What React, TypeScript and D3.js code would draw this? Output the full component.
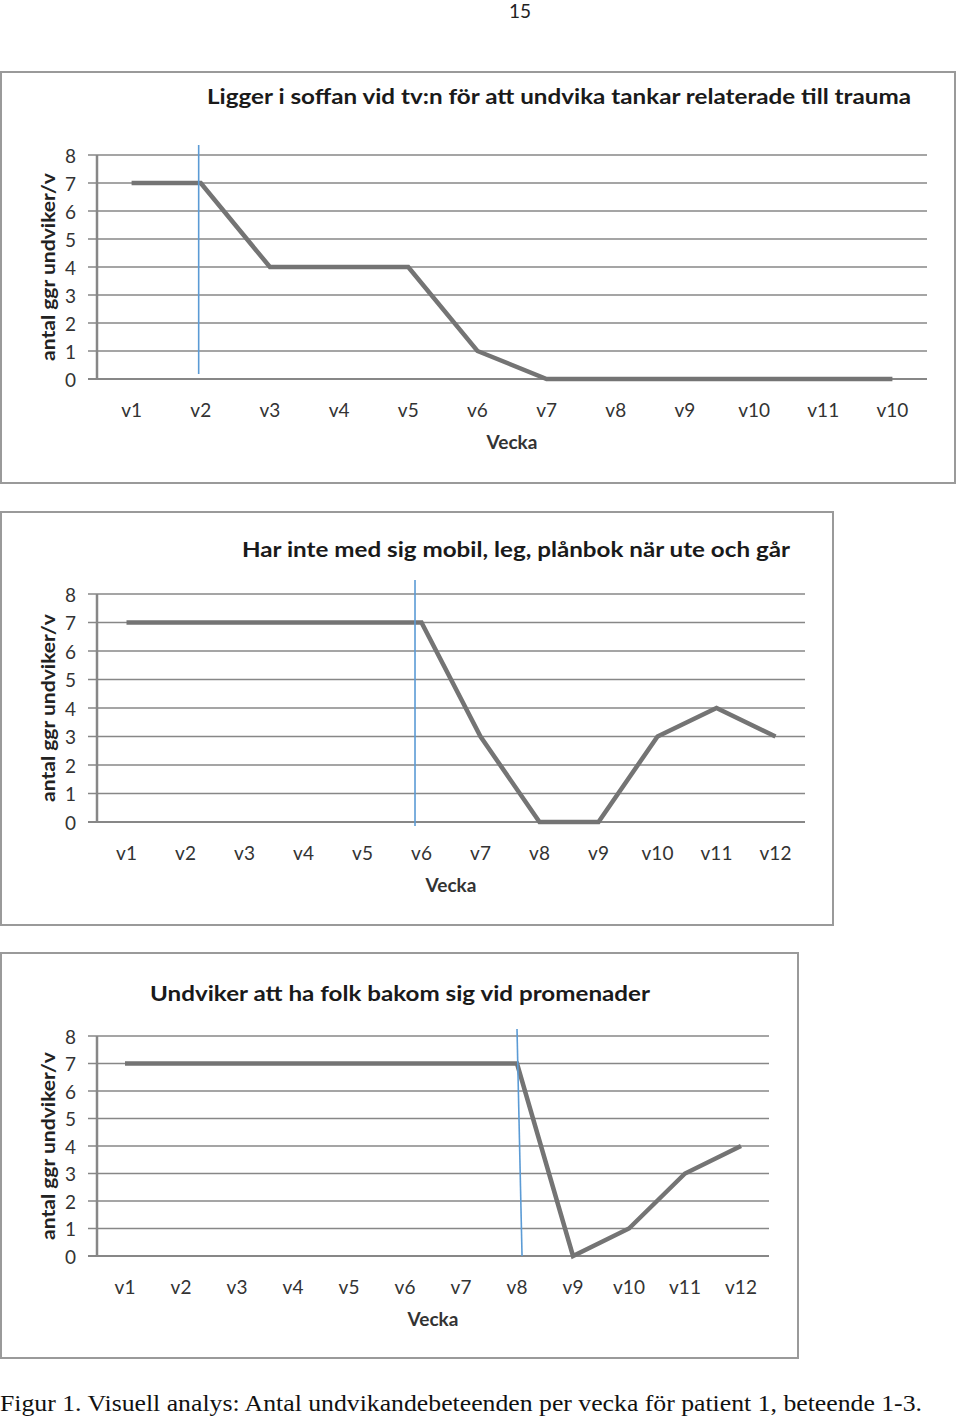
import React from "react";
import * as d3 from "d3";

// ---- data ----
const weeks1 = ["v1","v2","v3","v4","v5","v6","v7","v8","v9","v10","v11","v10"];
const values1 = [7,7,4,4,4,1,0,0,0,0,0,0];
const weeks2 = ["v1","v2","v3","v4","v5","v6","v7","v8","v9","v10","v11","v12"];
const values2 = [7,7,7,7,7,7,3,0,0,3,4,3];
const weeks3 = ["v1","v2","v3","v4","v5","v6","v7","v8","v9","v10","v11","v12"];
const values3 = [7,7,7,7,7,7,7,7,0,1,3,4];
// phase-change line position (in week-index units), top and bottom
const phase1 = [0.97, 0.97];
const phase2 = [4.89, 4.89];
const phase3 = [7.0, 7.09];
const yTicks = [0,1,2,3,4,5,6,7,8];
const titles = [
  "Ligger i soffan vid tv:n för att undvika tankar relaterade till trauma",
  "Har inte med sig mobil, leg, plånbok när ute och går",
  "Undviker att ha folk bakom sig vid promenader",
];
const yLabel = "antal  ggr undviker/v";
const xLabel = "Vecka";
const caption = "Figur 1. Visuell analys: Antal undvikandebeteenden per vecka för patient 1, beteende 1-3.";

const FONT = "Lato, 'Open Sans', sans-serif";

type Cfg = {
  box: [number, number, number, number];
  plot: { x0: number; x1: number; y0: number; y8: number };
  title: string; titleX: number; titleY: number; titleW: number;
  weeks: string[]; values: number[]; phase: number[];
  phaseTop: number; phaseBottom: number;
};

const configs: Cfg[] = [
  { box: [1, 72, 955, 483], plot: { x0: 97, x1: 927, y0: 379, y8: 155 },
    title: titles[0], titleX: 559, titleY: 95, titleW: 704,
    weeks: weeks1, values: values1, phase: phase1, phaseTop: 145, phaseBottom: 374 },
  { box: [1, 512, 833, 925], plot: { x0: 97, x1: 805, y0: 822, y8: 594 },
    title: titles[1], titleX: 516, titleY: 548, titleW: 548,
    weeks: weeks2, values: values2, phase: phase2, phaseTop: 580, phaseBottom: 826 },
  { box: [1, 953, 798, 1358], plot: { x0: 97, x1: 769, y0: 1256, y8: 1036 },
    title: titles[2], titleX: 400, titleY: 992, titleW: 500,
    weeks: weeks3, values: values3, phase: phase3, phaseTop: 1029, phaseBottom: 1256 },
];

function Chart({ c }: { c: Cfg }) {
  const n = c.weeks.length;
  const x = d3.scaleLinear().domain([-0.5, n - 0.5]).range([c.plot.x0, c.plot.x1]);
  const y = d3.scaleLinear().domain([0, 8]).range([c.plot.y0, c.plot.y8]);
  const line = d3.line<number>().x((_, i) => x(i)).y((d) => y(d));
  const [bx0, by0, bx1, by1] = c.box;
  const gridColor = "#878787";
  const midY = (c.plot.y0 + c.plot.y8) / 2;
  const midX = (c.plot.x0 + c.plot.x1) / 2;
  return (
    <g>
      <rect x={bx0} y={by0} width={bx1 - bx0} height={by1 - by0} fill="#fff" stroke="#9a9a9a" strokeWidth={2} />
      <text x={c.titleX} y={c.titleY} textAnchor="middle" dominantBaseline="central"
        fontFamily={FONT} fontWeight="bold" fontSize={21} fill="#1a1a1a"
        textLength={c.titleW} lengthAdjust="spacingAndGlyphs">{c.title}</text>
      {yTicks.map((t) => (
        <g key={t}>
          <line x1={c.plot.x0 - 9} x2={c.plot.x1} y1={y(t)} y2={y(t)} stroke={gridColor} strokeWidth={t === 0 ? 2 : 1.7} />
          <text x={76} y={y(t)} textAnchor="end" dominantBaseline="central" fontFamily={FONT} fontSize={19} fill="#333">{t}</text>
        </g>
      ))}
      <line x1={c.plot.x0} x2={c.plot.x0} y1={y(8)} y2={y(0)} stroke={gridColor} strokeWidth={2.5} />
      {c.weeks.map((w, i) => (
        <text key={i} x={x(i)} y={c.plot.y0 + 30} textAnchor="middle" dominantBaseline="central" fontFamily={FONT} fontSize={19} fill="#333">{w}</text>
      ))}
      <text x={midX} y={c.plot.y0 + 62} textAnchor="middle" dominantBaseline="central" fontFamily={FONT} fontWeight="bold" fontSize={19} fill="#333">{xLabel}</text>
      <text transform={`translate(47,${midY}) rotate(-90)`} textAnchor="middle" dominantBaseline="central"
        fontFamily={FONT} fontWeight="bold" fontSize={19} fill="#222"
        textLength={188} lengthAdjust="spacingAndGlyphs">{yLabel}</text>
      <path d={line(c.values) || ""} fill="none" stroke="#747474" strokeWidth={4.5} strokeLinejoin="miter" />
      <line x1={x(c.phase[0])} x2={x(c.phase[1])} y1={c.phaseTop} y2={c.phaseBottom} stroke="#5b9bd5" strokeWidth={1.6} />
    </g>
  );
}

export default function App() {
  return (
    <svg width={960} height={1419} style={{ position: "absolute", left: 0, top: 0, background: "#fff" }}>
      <rect x={0} y={0} width={960} height={1419} fill="#fff" />
      <text x={520} y={10} textAnchor="middle" dominantBaseline="central" fontFamily={FONT} fontSize={19} fill="#222">15</text>
      {configs.map((c, i) => <Chart key={i} c={c} />)}
      <text x={0} y={1411} fontFamily="'Liberation Serif', 'Times New Roman', serif" fontSize={24} fill="#111"
        textLength={922} lengthAdjust="spacingAndGlyphs">{caption}</text>
    </svg>
  );
}
